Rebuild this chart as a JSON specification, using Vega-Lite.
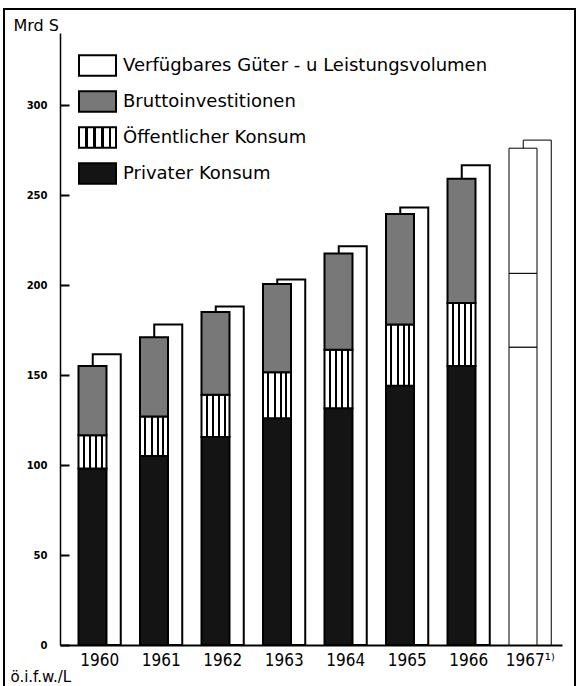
{
  "$schema": "https://vega.github.io/schema/vega-lite/v6.json",
  "width": 571,
  "height": 677,
  "autosize": "none",
  "padding": {"left": 4, "top": 9, "right": 1, "bottom": 0},
  "background": "white",
  "config": {
    "view": {"stroke": "black", "strokeWidth": 2, "strokeDash": [1248, 571, 677]},
    "font": "DejaVu Sans"
  },
  "datasets": {
    "front": [
      {"year": 1960, "component": "Privater Konsum", "value": 98},
      {"year": 1960, "component": "Öffentlicher Konsum", "value": 18.5},
      {"year": 1960, "component": "Bruttoinvestitionen", "value": 38.5},
      {"year": 1961, "component": "Privater Konsum", "value": 105},
      {"year": 1961, "component": "Öffentlicher Konsum", "value": 22},
      {"year": 1961, "component": "Bruttoinvestitionen", "value": 44},
      {"year": 1962, "component": "Privater Konsum", "value": 115.5},
      {"year": 1962, "component": "Öffentlicher Konsum", "value": 23.5},
      {"year": 1962, "component": "Bruttoinvestitionen", "value": 46},
      {"year": 1963, "component": "Privater Konsum", "value": 126},
      {"year": 1963, "component": "Öffentlicher Konsum", "value": 25.5},
      {"year": 1963, "component": "Bruttoinvestitionen", "value": 49},
      {"year": 1964, "component": "Privater Konsum", "value": 131.5},
      {"year": 1964, "component": "Öffentlicher Konsum", "value": 32.5},
      {"year": 1964, "component": "Bruttoinvestitionen", "value": 53.5},
      {"year": 1965, "component": "Privater Konsum", "value": 144},
      {"year": 1965, "component": "Öffentlicher Konsum", "value": 34},
      {"year": 1965, "component": "Bruttoinvestitionen", "value": 61.5},
      {"year": 1966, "component": "Privater Konsum", "value": 155},
      {"year": 1966, "component": "Öffentlicher Konsum", "value": 35},
      {"year": 1966, "component": "Bruttoinvestitionen", "value": 69},
      {"year": 1967, "component": "Privater Konsum", "value": 165.5},
      {"year": 1967, "component": "Öffentlicher Konsum", "value": 41},
      {"year": 1967, "component": "Bruttoinvestitionen", "value": 69.5}
    ],
    "back": [
      {"year": 1960, "component": "Verfügbares Güter - u Leistungsvolumen", "value": 161.5},
      {"year": 1961, "component": "Verfügbares Güter - u Leistungsvolumen", "value": 178},
      {"year": 1962, "component": "Verfügbares Güter - u Leistungsvolumen", "value": 188},
      {"year": 1963, "component": "Verfügbares Güter - u Leistungsvolumen", "value": 203},
      {"year": 1964, "component": "Verfügbares Güter - u Leistungsvolumen", "value": 221.5},
      {"year": 1965, "component": "Verfügbares Güter - u Leistungsvolumen", "value": 243},
      {"year": 1966, "component": "Verfügbares Güter - u Leistungsvolumen", "value": 266.5},
      {"year": 1967, "component": "Verfügbares Güter - u Leistungsvolumen", "value": 280.5}
    ]
  },
  "encoding": {
    "x": {
      "field": "year",
      "type": "ordinal",
      "scale": {"range": [56, 558], "paddingInner": 0, "paddingOuter": 0.0813, "align": 0.9},
      "axis": {
        "orient": "bottom",
        "offset": -41,
        "ticks": false,
        "grid": false,
        "domainColor": "black",
        "domainWidth": 2,
        "labelAngle": 0,
        "labelPadding": 7,
        "labelFont": "'DejaVu Sans Condensed', 'Liberation Sans', sans-serif",
        "labelFontSize": 17,
        "labelColor": "black",
        "labelExpr": "datum.value == 1967 ? '\u20021967¹⁾' : datum.label",
        "title": "ö.i.f.w./L",
        "titleX": 6,
        "titleY": 36,
        "titleAlign": "left",
        "titleBaseline": "alphabetic",
        "titleFont": "DejaVu Sans",
        "titleFontSize": 15,
        "titleFontWeight": "normal",
        "titleColor": "black"
      }
    },
    "y": {
      "field": "value",
      "type": "quantitative",
      "scale": {"domain": [0, 340], "range": [636, 24], "nice": false, "zero": true},
      "axis": {
        "orient": "left",
        "offset": -56,
        "values": [0, 50, 100, 150, 200, 250, 300],
        "grid": false,
        "tickSize": -9,
        "tickWidth": 2,
        "tickColor": "black",
        "domainColor": "black",
        "domainWidth": 1.5,
        "labelPadding": 22,
        "labelFont": "DejaVu Sans",
        "labelFontSize": 10,
        "labelFontWeight": "bold",
        "labelColor": "black",
        "title": "Mrd S",
        "titleAngle": 0,
        "titleX": -47,
        "titleY": 21,
        "titleAlign": "left",
        "titleBaseline": "alphabetic",
        "titleFont": "DejaVu Sans",
        "titleFontSize": 16,
        "titleFontWeight": "normal",
        "titleColor": "black"
      }
    },
    "fill": {
      "condition": {"test": "datum.year === 1967", "value": "white"},
      "field": "component",
      "type": "nominal",
      "scale": {
        "domain": ["Verfügbares Güter - u Leistungsvolumen", "Bruttoinvestitionen", "Öffentlicher Konsum", "Privater Konsum"],
        "range": [
          "white",
          "#787878",
          {"expr": "{gradient: 'linear', x1: 0, y1: 0, x2: 1, y2: 0, stops: [{offset: 0, color: 'white'}, {offset: 0.16, color: 'white'}, {offset: 0.16, color: 'black'}, {offset: 0.23, color: 'black'}, {offset: 0.23, color: 'white'}, {offset: 0.39, color: 'white'}, {offset: 0.39, color: 'black'}, {offset: 0.46, color: 'black'}, {offset: 0.46, color: 'white'}, {offset: 0.6, color: 'white'}, {offset: 0.6, color: 'black'}, {offset: 0.67, color: 'black'}, {offset: 0.67, color: 'white'}, {offset: 0.8, color: 'white'}, {offset: 0.8, color: 'black'}, {offset: 0.87, color: 'black'}, {offset: 0.87, color: 'white'}, {offset: 1, color: 'white'}]}"},
          "#141414"
        ]
      },
      "legend": {
        "orient": "none",
        "legendX": 74,
        "legendY": 37,
        "title": null,
        "padding": 0,
        "symbolType": "M-1,-0.55L1,-0.55L1,0.55L-1,0.55Z",
        "symbolSize": 1369,
        "symbolStrokeColor": "black",
        "symbolStrokeWidth": 2,
        "symbolOpacity": 1,
        "labelFont": "DejaVu Sans",
        "labelFontSize": 18,
        "labelColor": "black",
        "labelOffset": 6,
        "labelLimit": 500,
        "rowPadding": 2
      }
    },
    "strokeWidth": {"condition": {"test": "datum.year === 1967", "value": 1}, "value": 2}
  },
  "layer": [
    {
      "data": {"name": "back"},
      "mark": {"type": "bar", "width": 28, "xOffset": 7, "stroke": "black"},
      "encoding": {
        "y": {"field": "value", "type": "quantitative", "stack": null}
      }
    },
    {
      "data": {"name": "front"},
      "transform": [
        {"calculate": "indexof(['Privater Konsum', 'Öffentlicher Konsum', 'Bruttoinvestitionen'], datum.component)", "as": "ord"}
      ],
      "mark": {"type": "bar", "width": 28, "xOffset": -7.25, "stroke": "black"},
      "encoding": {
        "y": {"field": "value", "type": "quantitative", "stack": "zero"},
        "order": {"field": "ord", "type": "quantitative", "sort": "ascending"}
      }
    }
  ]
}
